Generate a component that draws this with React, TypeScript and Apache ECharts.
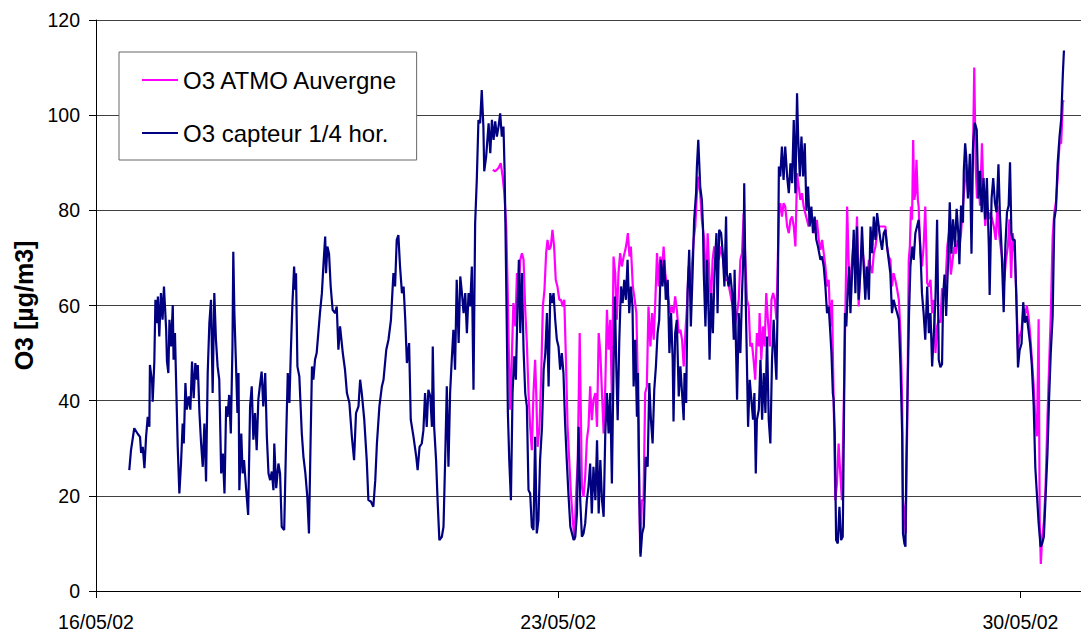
import React, { useEffect, useRef } from "react";
import * as echarts from "echarts";

// ---- Axis / labels ----
const DATE_LABELS = ["16/05/02", "23/05/02", "30/05/02"];
const HOURS_PER_WEEK = 168;
const X_MAX_HOURS = 358;
const Y_MIN = 0;
const Y_MAX = 120;
const Y_STEP = 20;
const SERIES_NAMES = ["O3 ATMO Auvergne", "O3 capteur 1/4 hor."];
const Y_TITLE = "O3 [µg/m3]";

// ---- O3 capteur 1/4 hor. : [hours since 16/05/02 00:00, µg/m3] ----
const CAPTEUR_16_17: [number, number][] = [
  [12.1, 25.4], [12.7, 29.5], [13.9, 34.2], [15.2, 33], [16, 32.4], [16.4, 29], [17, 30.3], [17.6, 25.8],
  [18.2, 32.4], [18.8, 36.6], [19.4, 34.5], [19.6, 47.5], [20.4, 43.7], [20.6, 39.8], [21.2, 48.2], [21.6, 61.2],
  [22.1, 56.3], [22.5, 61.9], [23, 53.5], [23.6, 62.6], [24.2, 57], [24.7, 64], [25.5, 54.9], [25.8, 48.2],
  [26.3, 45.8], [26.7, 57], [27.3, 51.4], [27.9, 60.1], [28.2, 48.6], [28.7, 54.2], [29.1, 44.4], [29.7, 30.3],
  [30.3, 20.5], [30.9, 26.8], [31.5, 35.2], [31.9, 31], [32.5, 43.7], [33, 38.1], [33.7, 40.9], [34.3, 38.1],
  [34.9, 48.2], [35.5, 40.5], [36.1, 47.9], [36.7, 44.4], [37, 47.5], [37.6, 37.4], [38.2, 31], [38.8, 26.1],
  [39.4, 35.2], [40, 23], [40.6, 45.8], [41.2, 56.3], [41.8, 61.2], [42.4, 41.6], [43, 62.6], [43.6, 52.8],
  [44.2, 47.2], [44.8, 44.4], [45.5, 24.7], [46.1, 28.9], [46.7, 20.5],
];
const CAPTEUR_18_19: [number, number][] = [
  [47.3, 38.8], [47.8, 36.6], [48.4, 41.2], [49, 33.1], [49.6, 51.4], [49.9, 71.3], [50.3, 58.4], [50.9, 47.2],
  [51.4, 37.4], [51.8, 45.8], [52.1, 21.2], [52.8, 33.1], [53.3, 24.7], [53.8, 27.5], [54.5, 21.9], [55.3, 16],
  [56, 38.8], [56.6, 43], [57.2, 31.8], [57.8, 37.4], [58.4, 29.6], [59, 40.2], [59.6, 43.3], [60.2, 46.1],
  [60.8, 38.8], [61.5, 45.8], [62.1, 32.4], [62.7, 24.7], [63.3, 23.3], [63.9, 25.1], [64.5, 21.2], [64.8, 31],
  [65.5, 21.6], [66.3, 26.8], [66.9, 24.7], [67.5, 13.5], [68.4, 12.8], [69.1, 31.8], [69.7, 45.8], [70.3, 39.5],
  [70.8, 50], [71.4, 60.5], [72, 68.2], [72.4, 63.3], [72.7, 66.8], [73.2, 47.2], [73.9, 45.1], [74.8, 33.1],
  [75.4, 28.2], [76.1, 24.7], [76.8, 19.8], [77.4, 12.1], [78, 31.8], [78.5, 47.2], [79, 44.4], [79.6, 48.6],
  [80.2, 50], [80.8, 54.2], [81.4, 58.4], [82.1, 62.6], [82.7, 68.9], [83.3, 74.5], [83.6, 66.8], [84.1, 72.4],
  [84.7, 70.9], [85.3, 64], [86, 59.1], [86.9, 58.4], [87.5, 59.8], [88.1, 50.7], [88.7, 55.6],
];
const CAPTEUR_19_21: [number, number][] = [
  [89.7, 50], [90.5, 46.5], [91.2, 41.6], [92.1, 39.5], [93, 32.4], [93.8, 27.5], [94.5, 37.4], [95.4, 38.8],
  [96, 44.4], [96.6, 41.6], [97.5, 36], [98.4, 27.5], [99, 19.1], [99.9, 18.8], [100.8, 17.7], [101.5, 23.3],
  [102.1, 31], [103, 38.8], [103.9, 43], [104.5, 44.4], [105.5, 50.7], [106.3, 52.8], [107.2, 57], [108.1, 66.8],
  [108.7, 64], [109.3, 73.8], [109.9, 74.8], [110.5, 68.2], [111.2, 62.6], [111.8, 64], [112.4, 57], [113, 47.9],
  [113.8, 52.1], [114.4, 36], [115.4, 32.4], [116.4, 28.2], [116.9, 25.4], [117.6, 30.3], [118.4, 31], [119, 33.8],
  [119.6, 41.6], [120.2, 34.5], [120.8, 42.3], [121.5, 40.9], [122.1, 34.5], [122.4, 51.4], [122.9, 34.5], [123.6, 27.5],
  [124.2, 18.4], [124.8, 10.7], [125.7, 11.4], [126.3, 13.5], [126.9, 27.5], [127.5, 43], [128.1, 26.1], [128.7, 41.6],
  [129.3, 48.6], [129.9, 54.9], [130.5, 46.5], [131.1, 65.4], [131.8, 52.1],
];
const CAPTEUR_21_23: [number, number][] = [
  [132.4, 66.1], [133, 62.6], [133.6, 58.4], [134.2, 62.6], [134.8, 54.2], [135.4, 62.6], [136, 59.8], [136.6, 68.2],
  [137.2, 42.3], [137.8, 77.3], [138.4, 86.4], [139, 99], [139.6, 98.3], [140.2, 105.3], [140.8, 97.6], [141.1, 88.2],
  [141.8, 91.3], [142.7, 98.3], [143.3, 92], [143.9, 99], [144.5, 94.8], [145.1, 98.7], [145.7, 95.5], [146.3, 97.6],
  [146.9, 100.4], [147.5, 95.5], [148.1, 97.6], [148.5, 88.5], [148.8, 77.3], [149.3, 55.6], [149.7, 37.4], [150.2, 27.5],
  [150.8, 19.1], [151.4, 41.6], [152, 49.3], [152.6, 44.4], [153.2, 59.8], [153.7, 69.6], [154.2, 54.2], [154.8, 66.8],
  [155.4, 50.7], [156, 41.6], [156.6, 38.8], [157.2, 21.2], [157.8, 20.5], [158.4, 13.5], [159, 12.8], [159.6, 32.4],
  [160.2, 12.1], [160.8, 14.9], [161.4, 27.5], [162.1, 34.5], [162.7, 46.5], [163.3, 50], [163.9, 58.4], [164.5, 43],
  [165.1, 62.6], [165.7, 60.5], [166.3, 62.6], [166.9, 57], [167.5, 52.8], [168.1, 51.4], [168.7, 46.5], [169.3, 50],
  [169.9, 45.8], [170.5, 35.2], [171.1, 27.5], [171.7, 20.5], [172.4, 13.5], [173, 12.1], [173.6, 10.7], [174.2, 11.4],
  [174.8, 16.3], [175.4, 34.5],
];
const CAPTEUR_23_25: [number, number][] = [
  [176, 19.1], [176.6, 11.4], [177.2, 12.1], [177.8, 14.2], [178.4, 19.1], [179, 21.9], [179.6, 26.8], [180.2, 16.3],
  [180.8, 26.1], [181.5, 19.1], [182.1, 31.7], [182.7, 16.3], [183.3, 27.5], [183.9, 19.1], [184.5, 15.6], [185.1, 33.1],
  [185.7, 41.6], [186.3, 33.1], [186.9, 41.6], [187.5, 22.6], [188.1, 47.2], [188.6, 61.9], [189.1, 47.2], [189.6, 35.9],
  [190.2, 52.8], [190.8, 64], [191.4, 60.5], [192, 65.4], [192.6, 61.2], [193.2, 69.6], [193.8, 58.4], [194.4, 64],
  [195, 59.8], [195.4, 43], [196, 52.8], [196.6, 36.6], [197, 45.8], [197.5, 19.1], [197.9, 7.2], [198.5, 12.1],
  [199.1, 13.5], [199.8, 28.2], [200.5, 26.1], [201.1, 43.7], [201.7, 35.9], [202.3, 31], [202.9, 42.3], [203.5, 47.2],
  [204.1, 54.2], [204.7, 57], [205.3, 69.6], [205.9, 64], [206.5, 69.6], [207.1, 61.2], [207.8, 65.4], [208.4, 50],
  [209, 58.4], [209.6, 48.6], [209.9, 35.6], [210.5, 54.2], [211.1, 57], [211.8, 40.9], [212.4, 47.2], [213, 41.6],
  [213.6, 35.9], [213.9, 45.8], [214.5, 39.5], [215, 62.6], [215.6, 71.7], [216.2, 55.6], [216.8, 66.1], [217.4, 78],
  [218.1, 83.6], [218.4, 89.2], [218.9, 94.8],
];
const CAPTEUR_25_26: [number, number][] = [
  [219.6, 85], [220.2, 82.2], [220.6, 76.6], [220.9, 66.8], [221.5, 55.6], [222.1, 69.6], [222.7, 57], [223, 48.6],
  [223.6, 62.6], [224.2, 54.2], [224.8, 66.8], [225.5, 75.2], [225.9, 58.4], [226.5, 75.9], [227.2, 75.2], [227.8, 71],
  [228.4, 64], [229, 78.7], [229.3, 66.8], [229.9, 64], [230.5, 66.8], [231.2, 62.6], [231.8, 52.8], [232.1, 67.5],
  [232.6, 51.4], [233, 40.2], [233.6, 58.4], [234.2, 50], [234.8, 62.6], [235.4, 72.4], [235.6, 85.7], [236.1, 62.6],
  [236.6, 47.2], [237, 34.5], [237.6, 44.4], [238.2, 40.2], [238.8, 36], [239.3, 41.6], [239.8, 24.7], [240.2, 36],
  [240.9, 38.1], [241.5, 48.6], [242.1, 36], [242.7, 45.8], [243.3, 37.4], [243.9, 53.5], [244.5, 36], [245.1, 31],
  [245.7, 48.6], [246.3, 57], [246.9, 48.6], [247.3, 44.4], [247.8, 62.6], [248.2, 89.2], [248.7, 87.1], [249.3, 93.4],
  [249.9, 86.4], [250.5, 93.4], [251.2, 87.1], [251.8, 83.6], [252.4, 89.9], [253, 85.7], [253.6, 99], [254.2, 83.6],
  [254.8, 104.6], [255.2, 95.5], [255.8, 87.1], [256.4, 95.5], [257, 87.1], [257.6, 94.1], [258.2, 80.1], [258.8, 85],
  [259.4, 76.6], [260, 80.8], [260.6, 75.2], [261.2, 78.7], [261.8, 73.8], [262.4, 72.4],
];
const CAPTEUR_26_28: [number, number][] = [
  [263.3, 69.6], [263.9, 70.3], [264.5, 68.2], [265.1, 64], [265.7, 58.4], [266.3, 59.8], [266.9, 54.2], [267.3, 50],
  [267.8, 41.6], [268.1, 40.2], [268.5, 33.1], [269, 10.7], [269.6, 10], [270.2, 17.7], [270.8, 10.7], [271.4, 11.4],
  [271.8, 33.1], [272.2, 58.4], [272.7, 55.6], [273.2, 62.6], [273.7, 68.2], [274.2, 58.4], [274.8, 66.8], [275.4, 75.9],
  [276, 62.6], [276.6, 76.6], [277.2, 61.2], [277.8, 66.8], [278.4, 76.6], [279, 68.2], [279.6, 61.2], [280.2, 68.2],
  [280.9, 61.2], [281.5, 76.6], [282.1, 71], [282.7, 78.7], [283.3, 73.8], [283.9, 79.4], [284.5, 76.6], [285.1, 73.8],
  [285.7, 71.7], [286.3, 75.2], [286.9, 75.9], [287.5, 72.4], [288.1, 69.6], [288.7, 66.8], [289.3, 58.4], [289.9, 61.2],
  [290.5, 59.8], [291.2, 58.4], [291.8, 57], [292.4, 47.2], [293, 33.1], [293.3, 12.1], [293.8, 10], [294.2, 9.3],
  [294.5, 26.1], [295, 43], [295.5, 58.4], [296, 68.2], [296.6, 72.4], [297.2, 69.6], [297.8, 75.2], [298.4, 76.6],
  [299, 78], [299.6, 72.4], [300.2, 62.6], [300.8, 58.4], [301.4, 52.8], [302.1, 64], [302.7, 54.2], [303.3, 58.4],
  [303.9, 47.2], [304.5, 54.2], [305.1, 61.2], [305.7, 78], [306.3, 48.6],
];
const CAPTEUR_28_30: [number, number][] = [
  [306.9, 47], [307.5, 47.7], [307.9, 62.2], [308.4, 66.5], [309, 57.8], [309.7, 69.4], [310.3, 81.7], [310.9, 70.9],
  [311.5, 78.1], [312.2, 72.3], [312.8, 80.3], [313.4, 75.2], [313.8, 68.7], [314.4, 81], [315.1, 77.4], [315.4, 88.3],
  [315.9, 94.1], [316.3, 91.2], [316.9, 82.5], [317.6, 91.9], [318.2, 70.9], [318.8, 94.1], [319.4, 98.4], [320.1, 97],
  [320.7, 82.5], [321.3, 88.3], [321.9, 79.6], [322.6, 86.8], [323.2, 78.1], [323.8, 86.8], [324.5, 72.3], [324.8, 62.2],
  [325.5, 82.5], [326.1, 86.8], [326.7, 81.7], [327.3, 79.6], [328, 89.7], [328.5, 79.6], [329.1, 72.3], [329.9, 58.6],
  [330.5, 72.3], [331.1, 79.6], [331.7, 81], [332.2, 90.1], [332.7, 75.2], [333.2, 73.8], [333.9, 73.8], [334.5, 61.4],
  [335.1, 47], [335.7, 50.6], [336.4, 52], [337, 60.7], [337.6, 56.4], [338.3, 57.8], [338.9, 54.9], [339.5, 52],
  [340.1, 47.7], [340.8, 39], [341.4, 25.9], [342, 20.1], [342.6, 14.3], [343.3, 9.3], [343.9, 10], [344.5, 11.4],
  [345.1, 19.4], [345.8, 28.8], [346.4, 40.4], [347, 49.9], [347.7, 57.8], [348.3, 78.1], [348.9, 80.3], [349.5, 89.7],
  [350.2, 95.5], [350.8, 99.1], [351.4, 108.6], [351.8, 113.6],
];

// ---- O3 ATMO Auvergne : [hours since 16/05/02 00:00, µg/m3] ----
const ATMO_22_23: [number, number][] = [
  [144.2, 88.5], [145.1, 88.2], [146.3, 88.9], [147.1, 89.9], [147.8, 87.1], [148.4, 83.6], [149.1, 76.6], [149.6, 64],
  [150.1, 48.6], [150.5, 38.1], [151.1, 48.6], [151.7, 60.5], [152.4, 55.6], [153, 66.8], [153.6, 62.6], [154.2, 69.6],
  [154.8, 71], [155.4, 69.6], [156, 59.1], [156.6, 52.1], [157.2, 41.6], [157.8, 34.5], [158.4, 29.6], [159, 41.6],
  [159.6, 48.6], [160, 41.6], [160.5, 30.3], [161.2, 34.5], [161.8, 45.1], [162.4, 59.8], [163, 63.3], [163.6, 71],
  [164.1, 73.8], [164.7, 71.7], [165.3, 72.4], [165.9, 75.9], [166.5, 72.4], [167.1, 65.4], [167.7, 64], [168.4, 61.2],
  [169, 61.2], [169.6, 59.8], [170.2, 61.2], [170.8, 48.6], [171.4, 34.5], [172, 27.5], [172.6, 20.5], [173.3, 14.9],
  [173.9, 10.7], [174.5, 20.5], [175.1, 27.5], [175.8, 54.2],
];
const ATMO_23_25: [number, number][] = [
  [176.6, 21.9], [177.2, 19.8], [177.8, 24], [178.4, 31.7], [179, 34.5], [179.6, 43], [180.2, 35.9], [180.8, 40.2],
  [181.5, 41.6], [182.1, 34.5], [182.7, 54.2], [183.3, 50], [183.9, 41.6], [184.5, 33.1], [185.1, 43], [185.7, 59.1],
  [186.3, 50.7], [186.9, 57], [187.5, 40.2], [188.1, 70.3], [188.7, 66.8], [189.3, 57], [189.9, 66.8], [190.5, 71],
  [191.1, 68.2], [191.8, 70.3], [192.4, 71.7], [193, 73.8], [193.3, 75.2], [193.9, 70.3], [194.4, 72.4], [195.1, 64],
  [195.8, 61.2], [196.4, 58.4], [196.8, 47.2], [197.3, 26.1], [197.8, 7.9], [198.4, 19.1], [199, 19.1], [199.6, 41.6],
  [200.2, 43], [200.8, 59.8], [201.5, 51.4], [202.1, 58.4], [202.7, 52.8], [203.3, 61.2], [203.9, 71], [204.5, 64],
  [205.1, 70.3], [205.7, 66.8], [206.3, 72.4], [206.9, 66.8], [207.5, 64], [208.1, 61.2], [208.7, 58.4], [209.3, 59.8],
  [209.9, 58.4], [210.5, 61.9], [211.1, 59.1], [211.8, 54.2], [212.4, 54.9], [213, 52.8], [213.6, 47.2], [214.2, 54.2],
  [214.8, 59.8], [215.4, 68.2], [216, 64], [216.6, 68.2], [217.2, 73.8], [217.8, 76.6], [218.4, 83.6], [219, 87.1],
];
const ATMO_25_26: [number, number][] = [
  [219.6, 83.6], [220.2, 78], [221.1, 73.8], [221.7, 62.6], [222.3, 75.2], [222.9, 66.8], [223.5, 59.8], [224.1, 69.6],
  [224.7, 72.4], [225.3, 71], [226.3, 69.6], [227.2, 72.4], [227.9, 69.6], [228.7, 65.4], [229.6, 65.4], [230.5, 62.6],
  [231.4, 59.8], [232.1, 55.6], [233, 58.4], [233.6, 61.2], [234.2, 69.6], [234.8, 71], [235.4, 79.4], [236, 69.6],
  [236.6, 61.2], [237.2, 59.8], [237.8, 51.4], [238.4, 52.1], [239, 48.6], [239.6, 44.4], [240.2, 54.2], [240.9, 51.4],
  [241.2, 58.4], [241.8, 48.6], [242.4, 55.6], [243, 51.4], [243.6, 62.6], [244.2, 57], [244.9, 51.4], [245.5, 61.2],
  [246.1, 62.6], [246.7, 61.2], [247.3, 57], [247.8, 69.6], [248.2, 79.4], [248.7, 81.5], [249.3, 78.7], [249.9, 81.5],
  [250.5, 80.8], [251.2, 76.6], [251.8, 75.2], [252.4, 78], [253, 78.7], [253.6, 76.6], [254.2, 72.4], [254.8, 87.8],
  [255.4, 85], [256, 82.2], [256.6, 83.6], [257.2, 80.8], [257.8, 79.4], [258.4, 78], [259, 76.6], [259.6, 80.1],
  [260.2, 78], [260.8, 76.6], [261.4, 75.2], [262, 78], [262.7, 73.8],
];
const ATMO_26_28: [number, number][] = [
  [263.3, 71.7], [263.9, 73.8], [264.5, 71], [265.1, 68.2], [265.7, 64], [266.3, 65.4], [266.9, 55.6], [267.5, 61.2],
  [268.1, 40.2], [268.7, 19.1], [269.3, 22.6], [269.9, 31], [270.5, 24.7], [271.1, 19.1], [271.8, 40.2], [272.4, 59.8],
  [273, 80.8], [273.6, 68.2], [274.2, 64], [274.8, 69.6], [275.4, 73.8], [276, 69.6], [276.6, 78.7], [277.2, 59.8],
  [277.8, 68.2], [278.4, 72.4], [279, 69.6], [279.6, 66.8], [280.2, 64], [280.9, 69.6], [281.5, 68.2], [282.1, 66.8],
  [282.7, 71], [283.3, 72.4], [283.9, 75.2], [284.5, 76.6], [285.1, 76.6], [285.7, 76.6], [286.3, 76.6], [286.9, 76.6],
  [287.5, 72.4], [288.1, 70.3], [288.7, 69.6], [289.3, 64], [289.9, 66.8], [290.5, 65.4], [291.2, 63.3], [291.8, 61.2],
  [292.4, 54.2], [293, 40.2], [293.3, 19.1], [293.8, 16.9], [294.3, 12.1], [294.8, 33.1], [295.4, 69.6], [295.8, 72.4],
  [296.2, 80.8], [296.6, 78], [297, 94.8], [297.4, 82.2], [297.8, 83.6], [298.2, 90.6], [298.4, 87.1], [298.7, 82.2],
  [299, 80.8], [299.6, 71], [300.2, 68.2], [300.8, 72.4], [301.4, 80.8], [302.1, 64.7], [302.7, 64], [303.3, 65.4],
  [303.9, 58.4], [304.5, 61.2], [305.1, 50], [305.7, 55.6], [306.3, 57],
];
const ATMO_28_30: [number, number][] = [
  [306.9, 56.4], [307.5, 63.6], [308.2, 62.2], [308.8, 65.1], [309.4, 72.3], [310, 75.2], [310.7, 66.5], [311.3, 69.4],
  [311.9, 72.3], [312.5, 70.9], [313.2, 73.8], [313.8, 72.3], [314.4, 75.2], [315.1, 81], [315.7, 85.4], [316.3, 89.7],
  [316.9, 83.9], [317.6, 88.3], [318.2, 85.4], [318.8, 94.1], [319.2, 110], [319.7, 89.7], [320.2, 82.5], [320.7, 86.8],
  [321.3, 81], [322, 94.1], [322.6, 82.5], [323.2, 76.7], [323.8, 81], [324.5, 78.1], [325.1, 79.6], [325.7, 78.1],
  [326.3, 76.7], [327, 73.8], [327.6, 81], [328.2, 75.2], [328.8, 72.3], [329.5, 69.4], [330.1, 65.1], [330.7, 69.4],
  [331.4, 72.3], [332, 78.1], [332.6, 65.8], [333.2, 75.2], [333.9, 70.9], [334.5, 62.2], [335.1, 50.6], [335.7, 53.5],
  [336.4, 54.9], [337, 59.3], [337.6, 57.8], [338.3, 60], [338.9, 57.8], [339.5, 54.2], [340.1, 49.1], [340.8, 43.3],
  [341.4, 36.1], [342, 32.5], [342.6, 57.1], [343, 14.3], [343.4, 5.7], [343.9, 11.4], [344.5, 14.3], [345.1, 21.6],
  [345.8, 36.1], [346.4, 47], [347, 57.8], [347.7, 74.5], [348.3, 79.6], [348.9, 81.7], [349.5, 86.8], [350.2, 94.1],
  [350.8, 94.1], [351.4, 102.8], [351.8, 103.1],
];

const CAPTEUR = [
  ...CAPTEUR_16_17, ...CAPTEUR_18_19, ...CAPTEUR_19_21, ...CAPTEUR_21_23,
  ...CAPTEUR_23_25, ...CAPTEUR_25_26, ...CAPTEUR_26_28, ...CAPTEUR_28_30,
];
const ATMO = [...ATMO_22_23, ...ATMO_23_25, ...ATMO_25_26, ...ATMO_26_28, ...ATMO_28_30];

const FONT = "'Liberation Sans', Arial, sans-serif";
const MAGENTA = "#FF00FF";
const NAVY = "#000080";

export default function App() {
  const ref = useRef<HTMLDivElement>(null);

  useEffect(() => {
    if (!ref.current) return;
    const chart = echarts.init(ref.current, null, { renderer: "svg" });
    chart.setOption({
      animation: false,
      backgroundColor: "#fff",
      grid: { left: 96, right: 0, top: 20, bottom: 41, containLabel: false },
      legend: {
        data: SERIES_NAMES,
        orient: "vertical",
        left: 119,
        top: 52,
        backgroundColor: "#fff",
        borderColor: "#666",
        borderWidth: 1,
        borderRadius: 0,
        padding: [16, 18, 15, 23],
        itemGap: 29,
        itemWidth: 36,
        itemHeight: 2,
        icon: "rect",
        selectedMode: false,
        textStyle: { fontSize: 24, color: "#000", fontFamily: FONT },
      },
      xAxis: {
        type: "value",
        min: 0,
        max: X_MAX_HOURS,
        interval: HOURS_PER_WEEK,
        axisLine: { show: true, onZero: false, lineStyle: { color: "#000", width: 1 } },
        axisTick: { show: true, length: 7, lineStyle: { color: "#000" } },
        axisLabel: {
          margin: 21,
          fontSize: 19.5,
          color: "#000",
          fontFamily: FONT,
          showMaxLabel: false,
          formatter: (v: number) =>
            v % HOURS_PER_WEEK === 0 ? DATE_LABELS[v / HOURS_PER_WEEK] ?? "" : "",
        },
        splitLine: { show: false },
      },
      yAxis: {
        type: "value",
        min: Y_MIN,
        max: Y_MAX,
        interval: Y_STEP,
        name: Y_TITLE,
        nameLocation: "middle",
        nameGap: 59,
        nameTextStyle: { fontSize: 25, fontWeight: "bold", color: "#000", fontFamily: FONT },
        axisLine: { show: true, lineStyle: { color: "#000", width: 1 } },
        axisTick: { show: true, length: 7, lineStyle: { color: "#000" } },
        axisLabel: { margin: 16, fontSize: 19.5, color: "#000", fontFamily: FONT },
        splitLine: { show: true, lineStyle: { color: "#404040", width: 1 } },
      },
      series: [
        {
          name: SERIES_NAMES[0],
          type: "line",
          data: ATMO,
          color: MAGENTA,
          showSymbol: false,
          symbol: "none",
          lineStyle: { color: MAGENTA, width: 2.2 },
          z: 2,
        },
        {
          name: SERIES_NAMES[1],
          type: "line",
          data: CAPTEUR,
          color: NAVY,
          showSymbol: false,
          symbol: "none",
          lineStyle: { color: NAVY, width: 2.2 },
          z: 3,
        },
      ],
    });
    return () => chart.dispose();
  }, []);

  return (
    <div
      ref={ref}
      style={{ position: "absolute", left: 0, top: 0, width: 1081, height: 632 }}
    />
  );
}
